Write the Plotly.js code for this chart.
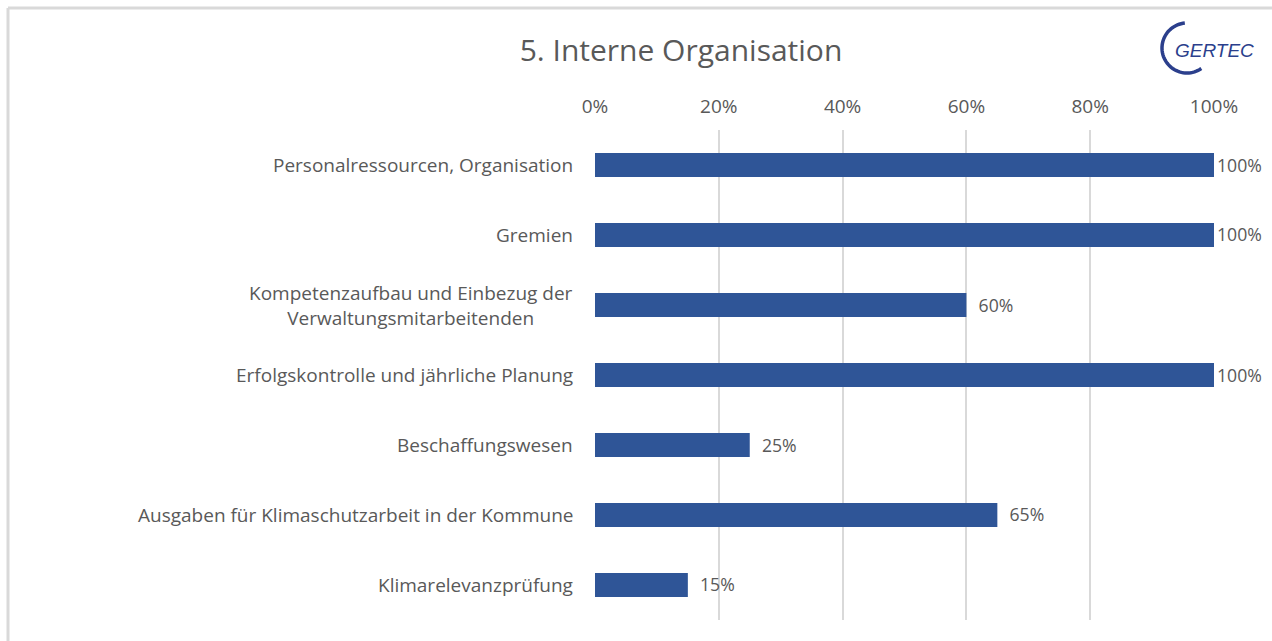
<!DOCTYPE html>
<html>
<head>
<meta charset="utf-8">
<script src="https://cdn.plot.ly/plotly-3.0.1.min.js"></script>
<style>html,body{margin:0;padding:0;background:#fff;}#chart{width:1272px;height:641px;}</style>
</head>
<body>
<div id="chart"></div>
<script>
// Data
const categories = [
  "Personalressourcen, Organisation",
  "Gremien",
  "Kompetenzaufbau und Einbezug der<br>Verwaltungsmitarbeitenden",
  "Erfolgskontrolle und jährliche Planung",
  "Beschaffungswesen",
  "Ausgaben für Klimaschutzarbeit in der Kommune",
  "Klimarelevanzprüfung"
];
const values = [1.00, 1.00, 0.60, 1.00, 0.25, 0.65, 0.15];
const tickVals = [0, 0.2, 0.4, 0.6, 0.8, 1.0];
const tickLabels = ["0%", "20%", "40%", "60%", "80%", "100%"];
const titleText = "5. Interne Organisation";
const logoText = "GERTEC";

const W = 1272, H = 641;
const M = {l: 595, r: 58, t: 130, b: 21};
const pw = W - M.l - M.r, ph = H - M.t - M.b;
const px = x => (x - M.l) / pw;          // pixel -> paper x
const py = y => 1 - (y - M.t) / ph;      // pixel -> paper y

const textCol = "#595959";
const font = "Open Sans, Liberation Sans, sans-serif";
const fs = 19;

const labels = values.map(v => (v < 1 ? "\u00a0\u00a0" : "") + Math.round(v * 100) + "%");

const trace = {
  type: "bar",
  orientation: "h",
  y: categories,
  x: values,
  marker: {color: "#2F5597"},
  text: labels,
  textposition: "outside",
  cliponaxis: false,
  textfont: {family: font, size: fs, color: textCol},
  hoverinfo: "skip"
};

// logo arc (C shape) as polyline in pixel units
let arc = "";
const R = 25;
for (let i = 0; i <= 48; i++) {
  const a = (95 + i * (210 / 48)) * Math.PI / 180;
  const x = R * Math.cos(a), y = R * Math.sin(a);
  arc += (i === 0 ? "M" : "L") + x.toFixed(2) + "," + y.toFixed(2) + " ";
}

const annotations = categories.map(c => ({
  xref: "paper", yref: "y", x: 0, y: c, xanchor: "right", yanchor: "middle",
  xshift: -20, text: c, align: "center", showarrow: false,
  font: {family: font, size: fs, color: textCol}
}));
annotations.push({
  xref: "paper", yref: "paper", x: px(1173), y: py(50), xanchor: "left", yanchor: "middle",
  text: "<i>" + logoText + "</i>", showarrow: false,
  font: {family: "Liberation Sans Narrow, Liberation Sans, Arial, sans-serif", size: 19, color: "#2B3F8C"}
});

const layout = {
  width: W, height: H,
  margin: M,
  paper_bgcolor: "#fff", plot_bgcolor: "#fff",
  showlegend: false,
  bargap: 0.655,
  title: {
    text: titleText,
    x: 681 / W, xref: "container", xanchor: "center",
    y: 1 - 50 / H, yref: "container", yanchor: "middle",
    font: {family: font, size: 30, color: textCol}
  },
  xaxis: {
    side: "top",
    range: [0, 1],
    tickvals: tickVals, ticktext: tickLabels,
    showgrid: true, gridcolor: "#D9D9D9", gridwidth: 2,
    zeroline: false, showline: false,
    ticks: "", ticklabelstandoff: 12,
    tickfont: {family: font, size: fs, color: textCol},
    fixedrange: true
  },
  yaxis: {
    autorange: "reversed",
    showticklabels: false,
    showgrid: false, zeroline: false, showline: false,
    fixedrange: true
  },
  annotations: annotations,
  shapes: [
    {type: "line", xref: "paper", yref: "paper", x0: px(8), x1: px(W + 5), y0: py(8), y1: py(8),
     line: {color: "#D9D9D9", width: 3}},
    {type: "line", xref: "paper", yref: "paper", x0: px(8), x1: px(8), y0: py(8), y1: py(H + 5),
     line: {color: "#D9D9D9", width: 3}},
    {type: "path", xref: "paper", yref: "paper", xsizemode: "pixel", ysizemode: "pixel",
     xanchor: px(1187), yanchor: py(48), path: arc,
     line: {color: "#2B3F8C", width: 3.5}}
  ]
};

Plotly.newPlot("chart", [trace], layout, {displayModeBar: false, staticPlot: true});
</script>
</body>
</html>
